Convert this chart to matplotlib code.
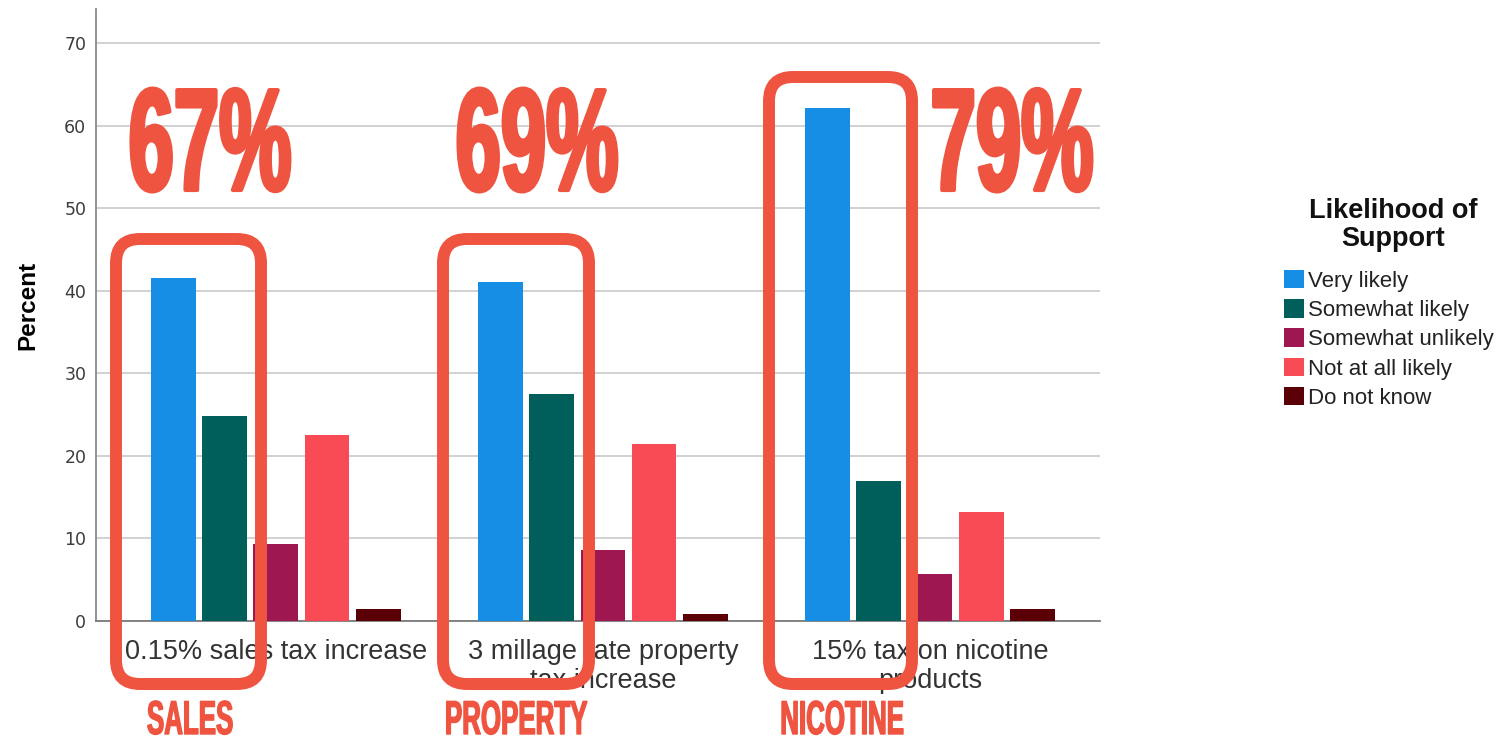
import numpy as np
import matplotlib
matplotlib.use('Agg')
import matplotlib.pyplot as plt
import matplotlib.font_manager as fm
from matplotlib.patches import FancyBboxPatch, Patch
from matplotlib.textpath import TextPath
from matplotlib.patheffects import AbstractPathEffect
from matplotlib.transforms import Affine2D, Bbox
from matplotlib.text import Text

# survey results, percent of respondents
categories = ['0.15% sales tax increase',
              '3 millage rate property\ntax increase',
              '15% tax on nicotine\nproducts']
responses = ['Very likely', 'Somewhat likely', 'Somewhat unlikely',
             'Not at all likely', 'Do not know']
very_likely = [41.6, 41.1, 62.1]
somewhat_likely = [24.8, 27.5, 16.9]
somewhat_unlikely = [9.3, 8.6, 5.7]
not_at_all = [22.5, 21.4, 13.2]
do_not_know = [1.4, 0.9, 1.4]
colors = ['#168EE5', '#005E5B', '#9E1750', '#F94B55', '#5A0006']

support_totals = ['67%', '69%', '79%']
short_names = ['SALES', 'PROPERTY', 'NICOTINE']
red = '#EF5440'

W, H = 1510, 741
plt.rcParams['font.family'] = ['Liberation Sans', 'DejaVu Sans']


class Stretch(AbstractPathEffect):
    # stretches the glyphs upward from the baseline and thickens them a little
    def __init__(self, sy, cx, by, grow):
        super().__init__()
        self.sy, self.cx, self.by, self.grow = sy, cx, by, grow

    def draw_path(self, renderer, gc, tpath, affine, rgbFace=None):
        t = affine + Affine2D().translate(-self.cx, -self.by).scale(1, self.sy) \
            .translate(self.cx, self.by)
        gc0 = renderer.new_gc()
        gc0.copy_properties(gc)
        gc0.set_linewidth(self.grow)
        gc0.set_foreground(rgbFace)
        gc0.set_joinstyle('round')
        renderer.draw_path(gc0, tpath, t, rgbFace)
        gc0.restore()


class TallText(Text):
    # condensed-looking headline text; extent reported after stretching
    def __init__(self, cx, top_px, s, sy, grow, **kw):
        by = H - top_px
        super().__init__(cx / W, by / H, s, transform=fig.transFigure,
                         path_effects=[Stretch(sy, cx, by, grow)], **kw)
        self.sy, self.by = sy, by

    def get_window_extent(self, renderer=None, dpi=None):
        bb = super().get_window_extent(renderer, dpi)
        return Bbox.from_extents(bb.x0, bb.y0, bb.x1,
                                 self.by + (bb.y1 - self.by) * self.sy)


cond_fp = fm.FontProperties(family=['Liberation Sans', 'DejaVu Sans'], weight='bold')


def fit(s, h_px, w_px, grow_pt):
    g = grow_pt * 100 / 72
    ext = TextPath((0, 0), s, size=100, prop=cond_fp).get_extents()
    k = (w_px - g) / ext.width
    sy = (h_px - g) / (ext.height * k)
    return 100 * k * 0.72, sy


fig = plt.figure(figsize=(W / 100, H / 100), dpi=100)
ax = fig.add_axes([96 / W, 1 - 621 / H, 1004 / W, 612.5 / H])

series = [very_likely, somewhat_likely, somewhat_unlikely, not_at_all, do_not_know]
x = np.arange(len(categories))
step, width = 0.1565, 0.137
for i, (vals, lab, c) in enumerate(zip(series, responses, colors)):
    ax.bar(x + (i - 2) * step, vals, width, color=c, label=lab, zorder=3)

ax.set_xlim(-0.55, 2.52)
ax.set_ylim(0, 74.2)
ax.set_yticks(range(0, 71, 10))
ax.yaxis.grid(True, color='#c9c9c9', lw=1.2, zorder=0)
ax.set_axisbelow(True)
for s in ['top', 'right']:
    ax.spines[s].set_visible(False)
ax.spines['left'].set_color('#8a8a8a')
ax.spines['left'].set_linewidth(1.3)
ax.spines['bottom'].set_color('#7a7a7a')
ax.spines['bottom'].set_linewidth(1.3)
ax.tick_params(axis='both', length=0)
ax.tick_params(axis='y', pad=7, labelsize=12.5, labelcolor='#3c3c3c')
ax.tick_params(axis='x', pad=13, labelsize=19.5, labelcolor='#333333')
for t in ax.get_yticklabels():
    t.set_family('DejaVu Sans')
ax.set_xticks(x)
ax.set_xticklabels(categories, linespacing=1.15)
ax.set_ylabel('Percent', fontsize=17.5, fontweight='bold', va='center')
ax.yaxis.set_label_coords((28 - 96) / 1004, (621 - 305) / 612.5)

handles = [Patch(facecolor=c, label=l) for c, l in zip(colors, responses)]
leg = fig.legend(handles=handles, loc='upper left',
                 bbox_to_anchor=(1284 / W, 1 - 270 / H),
                 frameon=False, fontsize=16, handlelength=0.9, handleheight=0.9,
                 handletextpad=0.2, labelspacing=0.33, borderpad=0, borderaxespad=0)
for t in leg.get_texts():
    t.set_color('#222222')
fig.text(1393 / W, 1 - 225 / H, 'Likelihood of\nSupport', fontsize=19.5,
         fontweight='bold', ha='center', va='center', linespacing=1.1, color='#111111')

# overlay: big totals, boxes and short names
size, sy = fit('67%', 107, 162, 3.0)
for s, cx in zip(support_totals, [210, 537, 1012]):
    fig.add_artist(TallText(cx, 190, s, sy, 3.0, fontproperties=cond_fp,
                            fontsize=size, color=red, ha='center', va='baseline',
                            zorder=5))

size, sy = fit('SALES', 35, 86, 1.0)
for s, cx in zip(short_names, [190, 516, 842]):
    fig.add_artist(TallText(cx, 734, s, sy, 1.0, fontproperties=cond_fp,
                            fontsize=size, color=red, ha='center', va='baseline',
                            zorder=5))

boxes = [(116, 239, 261, 684), (443, 239, 589, 684), (769, 77, 912, 684)]
for x0, y0, x1, y1 in boxes:
    p = FancyBboxPatch((x0 / 100, (H - y1) / 100), (x1 - x0) / 100, (y1 - y0) / 100,
                       boxstyle='round,pad=0,rounding_size=0.24',
                       transform=fig.dpi_scale_trans, fill=False, ec=red, lw=8.6,
                       zorder=5)
    fig.add_artist(p)

plt.savefig('out.png', dpi=100)
